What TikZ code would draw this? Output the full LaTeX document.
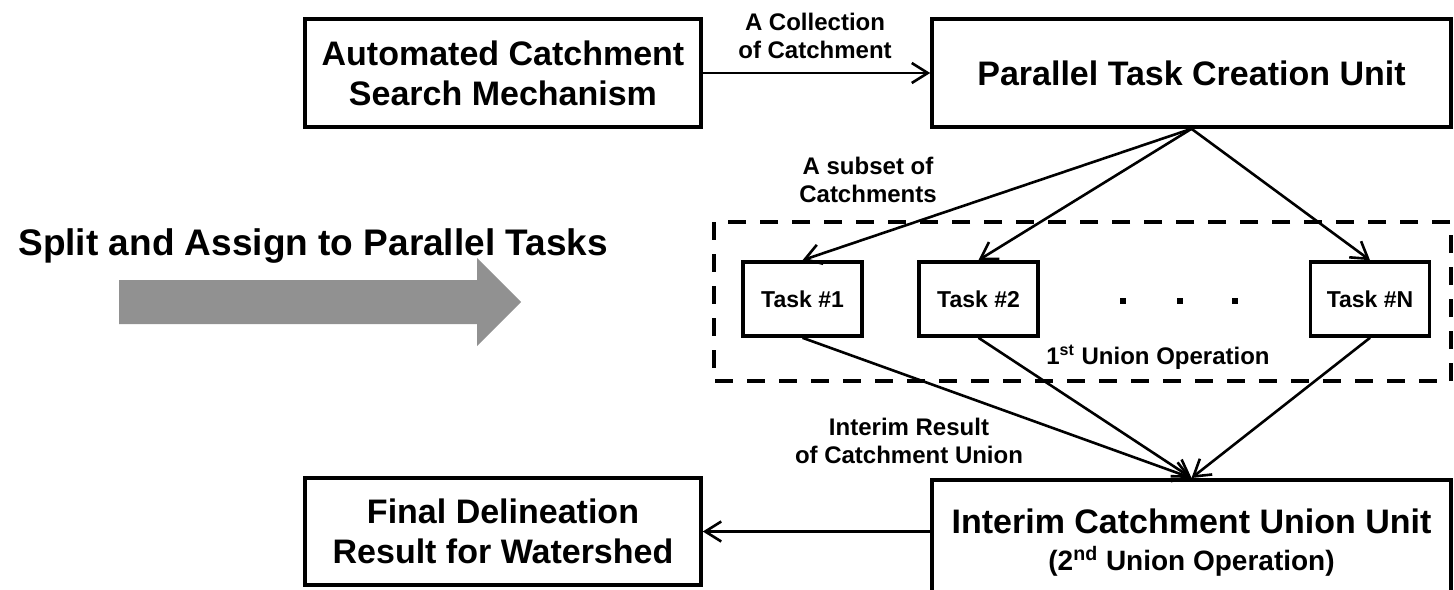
\documentclass[tikz,border=0pt]{standalone}
\usepackage{fontspec}
\setmainfont{Liberation Sans}
\usetikzlibrary{arrows.meta}
\definecolor{arrowgray}{RGB}{145,145,145}
\tikzset{
  unitbox/.style={draw, line width=1.8pt, align=center, inner sep=0pt,
    font=\bfseries\fontsize{17}{20}\selectfont},
  taskbox/.style={draw, line width=1.8pt, inner sep=0pt, minimum width=59.5pt,
    minimum height=37pt, font=\bfseries\fontsize{11.5}{14}\selectfont},
  lbl/.style={align=center, inner sep=0pt, font=\bfseries\fontsize{12}{14}\selectfont},
  link/.style={->, line width=1.3pt},
}
\begin{document}
\begin{tikzpicture}[x=0.5pt,y=-0.5pt,>={Straight Barb[length=8pt,width=10pt]}]
  \useasboundingbox (0,0) rectangle (1454,589);
  % main units
  \node[unitbox, minimum width=198pt, minimum height=54pt] (search) at (503,73) {Automated Catchment\\Search Mechanism};
  \node[unitbox, minimum width=259.5pt, minimum height=54pt] (creation) at (1191.5,73) {Parallel Task Creation Unit};
  \node[unitbox, minimum width=198pt, minimum height=53.5pt] (final) at (503,531.5) {Final Delineation\\Result for Watershed};
  \node[unitbox, minimum width=259.5pt, minimum height=63pt, anchor=north,
    font=\bfseries\fontsize{17}{18.5}\selectfont] (interim) at (1191.5,478)
    {Interim Catchment Union Unit\\{\fontsize{14}{16}\selectfont (2\textsuperscript{nd} Union Operation)}};

  % parallel tasks
  \draw[line width=1.6pt, dash pattern=on 9pt off 7pt] (714,222) rectangle (1451,381);
  \node[taskbox] (task1) at (802.5,299) {Task \#1};
  \node[taskbox] (task2) at (978.5,299) {Task \#2};
  \node[taskbox] (taskn) at (1370,299) {Task \#N};
  \foreach \x in {1123,1180,1235}
    \fill (\x-3,298) rectangle (\x+3,304);

  % labels
  \node[lbl] (collect) at (815,36) {A Collection\\of Catchment};
  \node[lbl] (subset) at (868,180) {A subset of\\Catchments};
  \node[lbl] (union1) at (1158,357) {1\textsuperscript{st} Union Operation};
  \node[lbl] (partial) at (909,441) {Interim Result\\of Catchment Union};

  % split arrow
  \node[anchor=base west, inner sep=0pt, font=\bfseries\fontsize{18.5}{22}\selectfont] (split) at (18,255) {Split and Assign to Parallel Tasks};
  \fill[arrowgray] (119,280) -- (477,280) -- (477,258) -- (521,302) -- (477,346) -- (477,324) -- (119,324) -- cycle;

  % connectors
  \draw[link] (search) -- (creation);
  \foreach \t in {task1,task2,taskn}
    \draw[link] (creation.south) -- (\t.north);
  \foreach \t in {task1,task2,taskn}
    \draw[link] (\t.south) -- (interim.north);
  \draw[link] (interim.west |- final.east) -- (final.east);
\end{tikzpicture}
\end{document}
